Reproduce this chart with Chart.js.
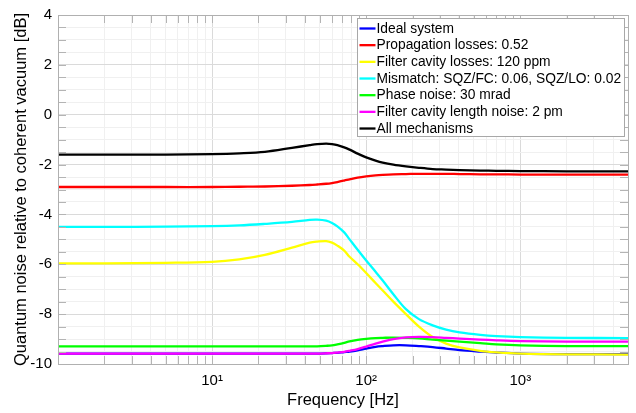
<!DOCTYPE html>
<html>
<head>
<meta charset="utf-8">
<script src="https://cdn.jsdelivr.net/npm/chart.js@4"></script>
<style>
  html, body { margin: 0; padding: 0; background: #fff; }
  #wrap { width: 636px; height: 413px; }
</style>
</head>
<body>
<div id="wrap"><canvas id="myChart" width="636" height="413"></canvas></div>
<script>
var freqs = [1, 2, 5, 10, 15, 22, 33, 43, 48, 55, 60, 65, 72, 78, 88, 100, 115, 128, 150, 181, 220, 270, 330, 404, 550, 700, 1000, 2000, 5000];

var labels = ['Ideal system', 'Propagation losses: 0.52', 'Filter cavity losses: 120 ppm',
    'Mismatch: SQZ/FC: 0.06, SQZ/LO: 0.02', 'Phase noise: 30 mrad',
    'Filter cavity length noise: 2 pm', 'All mechanisms'];
var colors = ['#0000ff', '#ff0000', '#ffff00', '#00ffff', '#00ff00', '#ff00ff', '#000000'];

var ideal    = [-9.58, -9.58, -9.58, -9.58, -9.58, -9.58, -9.58, -9.58, -9.58, -9.57, -9.56, -9.55, -9.52, -9.5, -9.45, -9.38, -9.31, -9.28, -9.25, -9.25, -9.28, -9.32, -9.38, -9.44, -9.5, -9.54, -9.58, -9.6, -9.6];
var propLoss = [-2.9, -2.9, -2.9, -2.9, -2.89, -2.88, -2.85, -2.82, -2.8, -2.77, -2.74, -2.7, -2.64, -2.59, -2.52, -2.47, -2.43, -2.41, -2.39, -2.38, -2.37, -2.37, -2.37, -2.38, -2.39, -2.39, -2.4, -2.4, -2.4];
var fcLoss   = [-5.96, -5.96, -5.94, -5.9, -5.8, -5.62, -5.33, -5.13, -5.09, -5.07, -5.13, -5.25, -5.45, -5.7, -6.0, -6.35, -6.75, -7.05, -7.5, -8.0, -8.5, -8.92, -9.18, -9.33, -9.47, -9.53, -9.58, -9.61, -9.62];
var mismatch = [-4.5, -4.5, -4.49, -4.47, -4.44, -4.38, -4.3, -4.22, -4.21, -4.25, -4.34, -4.48, -4.72, -5.0, -5.42, -5.85, -6.3, -6.65, -7.2, -7.8, -8.2, -8.45, -8.62, -8.73, -8.83, -8.88, -8.92, -8.95, -8.96];
var phase    = [-9.29, -9.29, -9.29, -9.29, -9.29, -9.29, -9.29, -9.29, -9.29, -9.27, -9.25, -9.21, -9.15, -9.09, -9.03, -8.99, -8.96, -8.95, -8.94, -8.95, -8.97, -9.02, -9.06, -9.1, -9.16, -9.21, -9.25, -9.28, -9.28];
var fcLength = [-9.58, -9.58, -9.58, -9.58, -9.58, -9.58, -9.58, -9.58, -9.58, -9.57, -9.56, -9.54, -9.51, -9.47, -9.4, -9.3, -9.18, -9.1, -9.0, -8.93, -8.91, -8.92, -8.95, -8.98, -9.02, -9.05, -9.08, -9.1, -9.1];
var allMech  = [-1.6, -1.6, -1.6, -1.58, -1.55, -1.49, -1.33, -1.22, -1.18, -1.16, -1.18, -1.22, -1.31, -1.4, -1.56, -1.71, -1.84, -1.92, -2.0, -2.07, -2.13, -2.18, -2.2, -2.22, -2.24, -2.25, -2.26, -2.27, -2.27];

var series = [ideal, propLoss, fcLoss, mismatch, phase, fcLength, allMech];
var yTicks = [-10, -8, -6, -4, -2, 0, 2, 4];
var xMajor = [10, 100, 1000];
var xTickText = ['10\u00b9', '10\u00b2', '10\u00b3'];

var FONT = '"Liberation Sans", Arial, Helvetica, sans-serif';

function isMajorX(v) {
    var l = Math.log10(v);
    return Math.abs(l - Math.round(l)) < 1e-9;
}

var datasets = series.map(function(s, i) {
    return {
        label: labels[i],
        data: s.map(function(v, j) { return { x: freqs[j], y: v }; }),
        borderColor: colors[i],
        backgroundColor: colors[i],
        borderWidth: 2.3,
        pointRadius: 0,
        tension: 0.35,
        order: series.length - i
    };
});

// inward tick marks on all four sides + box + legend
var boxPlugin = {
    id: 'boxPlugin',
    afterDatasetsDraw: function(chart) {
        var ctx = chart.ctx;
        var a = chart.chartArea;
        var xs = chart.scales.x, ys = chart.scales.y;
        ctx.save();
        ctx.strokeStyle = '#b4b4b4';
        ctx.lineWidth = 1;
        ctx.beginPath();
        xs.ticks.forEach(function(t) {
            var px = Math.round(xs.getPixelForValue(t.value)) + 0.5;
            ctx.moveTo(px, a.bottom); ctx.lineTo(px, a.bottom - 8);
            ctx.moveTo(px, a.top); ctx.lineTo(px, a.top + 8);
        });
        ys.ticks.forEach(function(t) {
            var py = Math.round(ys.getPixelForValue(t.value)) + 0.5;
            ctx.moveTo(a.left, py); ctx.lineTo(a.left + 8, py);
            ctx.moveTo(a.right, py); ctx.lineTo(a.right - 8, py);
        });
        ctx.stroke();
        ctx.strokeStyle = '#b0b0b0';
        ctx.strokeRect(Math.round(a.left) + 0.5, Math.round(a.top) + 0.5,
            Math.round(a.right - a.left), Math.round(a.bottom - a.top));

        // legend
        var lw = 267, lh = 118;
        var lx = Math.round(a.right - 4 - lw) + 0.5, ly = Math.round(a.top + 3) + 0.5;
        ctx.fillStyle = '#fff';
        ctx.fillRect(lx, ly, lw, lh);
        ctx.strokeStyle = '#a8a8a8';
        ctx.strokeRect(lx, ly, lw, lh);
        ctx.font = '13.8px ' + FONT;
        ctx.textBaseline = 'middle';
        labels.forEach(function(lab, i) {
            var cy = ly + 10 + i * 16.67;
            ctx.strokeStyle = colors[i];
            ctx.lineWidth = 2.3;
            ctx.beginPath();
            ctx.moveTo(lx + 2, cy); ctx.lineTo(lx + 18, cy);
            ctx.stroke();
            ctx.fillStyle = '#000';
            ctx.fillText(lab, lx + 19, cy + 0.5);
        });
        ctx.restore();
    }
};

var ctx = document.getElementById('myChart').getContext('2d');
var myChart = new Chart(ctx, {
    type: 'line',
    data: { datasets: datasets },
    plugins: [boxPlugin],
    options: {
        responsive: false,
        animation: false,
        layout: { padding: { top: 11, right: 8, left: 0, bottom: 0 } },
        plugins: { legend: { display: false }, tooltip: { enabled: false } },
        scales: {
            x: {
                type: 'logarithmic',
                min: 1,
                max: 5000,
                afterBuildTicks: function(scale) {
                    var t = [];
                    for (var e = 1; e <= 1000; e *= 10) {
                        for (var m = 1; m <= 9; m++) {
                            if (m * e <= 5000) t.push({ value: m * e });
                        }
                    }
                    scale.ticks = t;
                },
                afterFit: function(scale) { scale.height = 49; },
                grid: {
                    drawTicks: false,
                    color: function(c) {
                        return (c.tick && isMajorX(c.tick.value)) ? '#dadada' : '#f0f0f0';
                    }
                },
                border: { display: false },
                ticks: {
                    autoSkip: false,
                    maxRotation: 0,
                    padding: 8,
                    color: '#000',
                    font: { family: FONT, size: 15 },
                    callback: function(v) {
                        var k = xMajor.indexOf(v);
                        return k >= 0 ? xTickText[k] : '';
                    }
                },
                title: {
                    display: true,
                    text: 'Frequency [Hz]',
                    color: '#000',
                    font: { family: FONT, size: 16.5 },
                    padding: { top: 0, bottom: 3 }
                }
            },
            y: {
                min: -10,
                max: 4,
                afterFit: function(scale) { scale.width = 58; },
                grid: {
                    drawTicks: false,
                    color: function(c) {
                        return (c.tick && yTicks.indexOf(c.tick.value) >= 0) ? '#dadada' : '#f0f0f0';
                    }
                },
                border: { display: false },
                ticks: {
                    stepSize: 0.5,
                    autoSkip: false,
                    padding: 6,
                    color: '#000',
                    font: { family: FONT, size: 15 },
                    callback: function(v) {
                        return yTicks.indexOf(v) >= 0 ? String(v) : '';
                    }
                },
                title: {
                    display: true,
                    text: 'Quantum noise relative to coherent vacuum [dB]',
                    color: '#000',
                    font: { family: FONT, size: 16.5 },
                    padding: { top: 12, bottom: 0 }
                }
            }
        }
    }
});
</script>
</body>
</html>
